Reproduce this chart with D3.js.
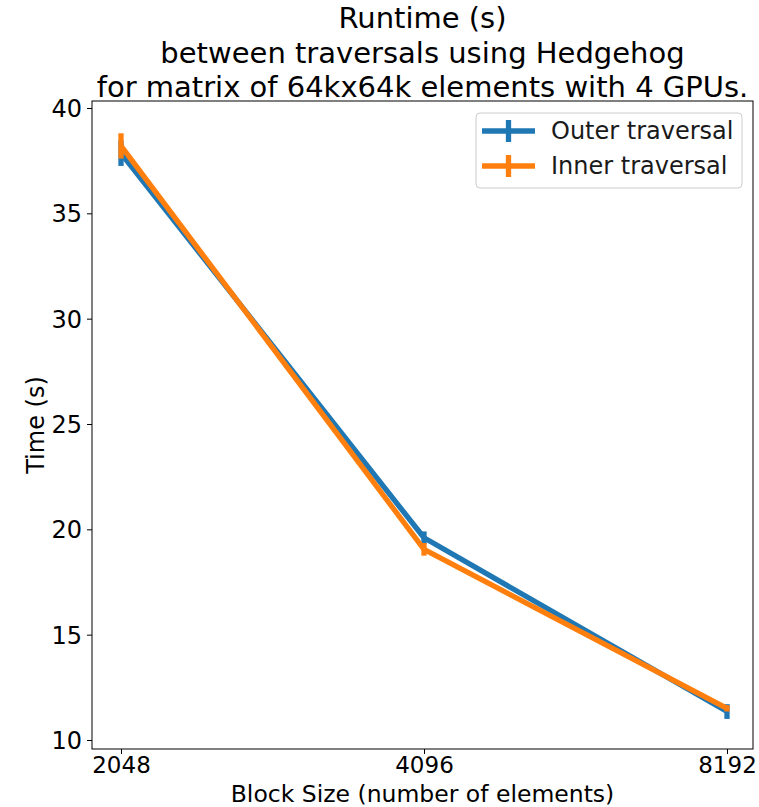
<!DOCTYPE html>
<html>
<head>
<meta charset="utf-8">
<script src="https://cdn.jsdelivr.net/npm/d3@7/dist/d3.min.js"></script>
<style>
  html, body { margin: 0; padding: 0; background: #fff; }
  svg { display: block; font-family: "DejaVu Sans", sans-serif; }
</style>
</head>
<body>
<svg id="chart" width="759" height="807"></svg>
<script>
// Block sizes (x) and mean runtimes with their spread (y)
const blockSizes = [2048, 4096, 8192];
const outerTime = [37.85, 19.6, 11.35];
const outerErr = [0.6, 0.3, 0.35];
const innerTime = [38.2, 19.05, 11.5];
const innerErr = [0.6, 0.3, 0.15];
const seriesNames = ["Outer traversal", "Inner traversal"];
const seriesColors = ["#1f77b4", "#ff7f0e"];
const yTicks = [10, 15, 20, 25, 30, 35, 40];
const titleLines = [
  "Runtime (s)",
  "between traversals using Hedgehog",
  "for matrix of 64kx64k elements with 4 GPUs."
];

const svg = d3.select("#chart");
const frame = { left: 92, right: 753, top: 101, bottom: 749 };

const x = d3.scaleLog().base(2).domain([2048, 8192]).range([121, 727]);
const y = d3.scaleLinear().domain([10, 40]).range([740, 108]);

// Title
const title = svg.append("text")
  .attr("x", (frame.left + frame.right) / 2)
  .attr("text-anchor", "middle")
  .attr("font-size", 29)
  .attr("fill", "#000");
titleLines.forEach((t, i) => {
  title.append("tspan").attr("x", (frame.left + frame.right) / 2).attr("y", 28 + i * 34.5).text(t);
});

// Series
const series = [
  { name: seriesNames[0], color: seriesColors[0], t: outerTime, e: outerErr },
  { name: seriesNames[1], color: seriesColors[1], t: innerTime, e: innerErr }
];

const line = d3.line().x(d => x(d.x)).y(d => y(d.y));
series.forEach(s => {
  const pts = blockSizes.map((b, i) => ({ x: b, y: s.t[i], e: s.e[i] }));
  const g = svg.append("g");
  g.append("path")
    .datum(pts)
    .attr("d", line)
    .attr("fill", "none")
    .attr("stroke", s.color)
    .attr("stroke-width", 5.3)
    .attr("stroke-linejoin", "round");
  g.selectAll("line.err").data(pts).join("line")
    .attr("class", "err")
    .attr("x1", d => x(d.x)).attr("x2", d => x(d.x))
    .attr("y1", d => y(d.y - d.e)).attr("y2", d => y(d.y + d.e))
    .attr("stroke", s.color)
    .attr("stroke-width", 5.3);
});

// Axes
const xAxis = d3.axisBottom(x).tickValues(blockSizes).tickFormat(d3.format("d")).tickSize(5).tickPadding(3);
const yAxis = d3.axisLeft(y).tickValues(yTicks).tickSize(5).tickPadding(5);

const gx = svg.append("g").attr("transform", `translate(0,${frame.bottom})`).call(xAxis);
const gy = svg.append("g").attr("transform", `translate(${frame.left},0)`).call(yAxis);
[gx, gy].forEach(g => {
  g.select(".domain").remove();
  g.selectAll("text").attr("font-size", 24).attr("fill", "#000").attr("font-family", "DejaVu Sans");
  g.selectAll("line").attr("stroke", "#000").attr("stroke-width", 1);
});
gx.selectAll("text").attr("font-size", 23);
gy.selectAll("text").attr("dy", "0.35em");

// Frame
svg.append("rect")
  .attr("x", frame.left).attr("y", frame.top)
  .attr("width", frame.right - frame.left).attr("height", frame.bottom - frame.top)
  .attr("fill", "none").attr("stroke", "#000").attr("stroke-width", 1);

// Axis labels
svg.append("text")
  .attr("x", (frame.left + frame.right) / 2).attr("y", 802)
  .attr("text-anchor", "middle").attr("font-size", 23.5).attr("fill", "#000")
  .text("Block Size (number of elements)");
svg.append("text")
  .attr("transform", `translate(44,${(frame.top + frame.bottom) / 2}) rotate(-90)`)
  .attr("text-anchor", "middle").attr("font-size", 24).attr("fill", "#000")
  .text("Time (s)");

// Legend
const lg = svg.append("g").attr("transform", "translate(476,113)");
lg.append("rect")
  .attr("width", 266).attr("height", 75).attr("rx", 4)
  .attr("fill", "#fff").attr("fill-opacity", 0.8)
  .attr("stroke", "#ccc").attr("stroke-width", 1);
series.forEach((s, i) => {
  const cy = 18 + i * 35;
  lg.append("line").attr("x1", 6).attr("x2", 59).attr("y1", cy).attr("y2", cy)
    .attr("stroke", s.color).attr("stroke-width", 5.3);
  lg.append("line").attr("x1", 32.5).attr("x2", 32.5).attr("y1", cy - 11).attr("y2", cy + 11)
    .attr("stroke", s.color).attr("stroke-width", 5.3);
  lg.append("text").attr("x", 75).attr("y", cy).attr("dy", "0.35em")
    .attr("font-size", 24).attr("fill", "#1a1a1a").text(s.name);
});
</script>
</body>
</html>
